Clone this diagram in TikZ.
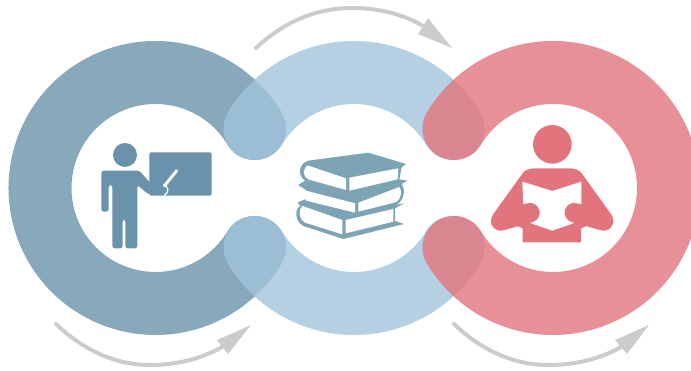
\documentclass[tikz,border=0pt]{standalone}
\definecolor{slate}{RGB}{106,146,171}
\definecolor{sky}{RGB}{161,196,219}
\definecolor{rose}{RGB}{226,116,125}
\definecolor{bookc}{RGB}{125,164,181}
\definecolor{arrowc}{RGB}{204,204,204}
\tikzset{
  ring/.style={line width=63pt,line cap=round,draw opacity=0.8},
  shaft/.style={draw=arrowc,line width=4pt,line cap=round},
  head/.style={fill=arrowc},
}
\begin{document}
\begin{tikzpicture}[x=1pt,y=-1pt]
\useasboundingbox (0,0) rectangle (691,371);
\clip (0,0) rectangle (691,371);
% rings
\draw[ring,draw=slate] (254.5,128.5) arc[start angle=31,delta angle=298,radius=115.5pt];
\draw[ring,draw=sky] (453,128.5) arc[start angle=31,delta angle=118,radius=115.5pt];
\draw[ring,draw=sky] (255,247.5) arc[start angle=211,delta angle=118,radius=115.5pt];
\draw[ring,draw=rose] (454,128.5) arc[start angle=149,delta angle=-298,radius=115.5pt];
% arrows
\draw[shaft] (256,48) .. controls (290,16) and (325,8) .. (352,8) .. controls (380,8) and (405,15) .. (423,26);
\fill[head] (452,48) -- (428,18) -- (418,34) -- cycle;
\draw[shaft] (56,324) .. controls (80,347) and (112,365) .. (150,365) .. controls (178,365) and (203,358) .. (222,347);
\fill[head] (251,325) -- (217,340) -- (228,354) -- cycle;
\draw[shaft] (454,324) .. controls (478,347) and (510,365) .. (548,365) .. controls (577,365) and (602,358) .. (621,347);
\fill[head] (649,325) -- (615,340) -- (627,354) -- cycle;
% teacher
\begin{scope}[shift={(80,130)},x=1pt/3,y=-1pt/3]
\fill[slate] (135,75) circle[radius=12pt];
\fill[slate,rounded corners=1.5pt] (208,67) rectangle (395,197);
\draw[white,line width=3pt,line cap=round] (290,122) -- (253,168);
\draw[white,line width=1.2pt] (250,163) .. controls (268,172) and (268,186) .. (252,197);
\fill[slate,rounded corners=2.5pt] (64,122) -- (178,122) -- (212,160) -- (252,167) -- (252,190) -- (205,193) -- (172,165) -- (172,355) -- (136,355) -- (136,268) -- (128,268) -- (128,355) -- (97,355) -- (97,165) -- (86,165) -- (86,245) -- (64,245) -- cycle;
\end{scope}
% books
\begin{scope}[shift={(280,140)},x=1pt/3,y=-1pt/3]
\fill[bookc] (52,188) -- (75,178) -- (225,218) -- (372,190) -- (345,205) -- (345,243) -- (372,252) -- (190,297) -- (70,258) .. controls (45,245) and (42,205) .. (62,198) -- cycle;
\fill[white] (68,198) .. controls (52,212) and (58,240) .. (75,248) -- (187,283) -- (187,240) -- cycle;
\fill[white] (197,240) -- (340,207) -- (340,245) -- (197,280) -- cycle;
\fill[bookc] (55,135) -- (75,122) -- (200,150) -- (382,122) -- (365,132) .. controls (378,150) and (372,180) .. (350,195) -- (235,222) -- (225,222) -- (78,183) -- (78,150) -- cycle;
\fill[white] (78,152) -- (225,190) -- (225,218) -- (78,182) -- cycle;
\fill[white] (235,188) -- (358,141) .. controls (368,152) and (362,176) .. (350,186) -- (235,215) -- cycle;
\fill[bookc] (85,62) -- (265,38) -- (378,72) -- (365,82) -- (358,118) -- (382,122) -- (208,160) -- (200,158) -- (75,122) .. controls (52,105) and (55,72) .. (85,62) -- cycle;
\fill[white] (82,76) .. controls (68,88) and (68,110) .. (85,118) -- (198,150) -- (198,115) -- cycle;
\fill[white] (208,113) -- (355,85) -- (353,118) -- (208,152) -- cycle;
\end{scope}
% reader
\begin{scope}[shift={(480,115)},x=1pt/3,y=-1pt/3]
\fill[rose] (217,88) circle[radius=19.3pt];
\fill[rose] (165,160) -- (270,160) .. controls (285,160) and (298,165) .. (305,175) -- (395,300) -- (303,340) -- (303,382) -- (128,382) -- (128,340) -- (38,300) -- (128,175) .. controls (135,165) and (148,160) .. (165,160) -- cycle;
\fill[white] (127,200) -- (217,228) -- (304,200) -- (304,270) -- (280,325) -- (217,347) -- (153,325) -- (130,272) -- cycle;
\draw[rose,line width=19.5pt,line cap=round] (150,293) -- (62,318);
\draw[rose,line width=19.5pt,line cap=round] (283,293) -- (371,318);
\end{scope}
\end{tikzpicture}
\end{document}
